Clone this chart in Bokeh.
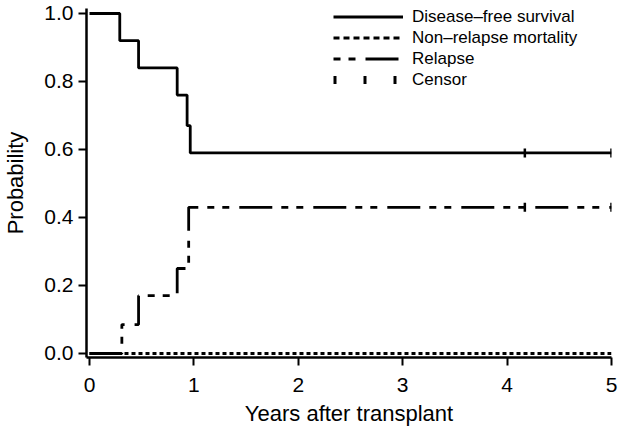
import numpy as np
from bokeh.plotting import figure
from bokeh.models import Range1d, FixedTicker, PrintfTickFormatter, Legend, LegendItem
from bokeh.embed import file_html
from bokeh.resources import INLINE

# Disease-free survival (Kaplan-Meier steps)
dfs_time = [0.0, 0.29, 0.47, 0.84, 0.935, 0.965, 5.0]
dfs_prob = [1.0, 0.92, 0.84, 0.76, 0.67, 0.59, 0.59]

# Non-relapse mortality
nrm_time = [0.0, 5.0]
nrm_prob = [0.0, 0.0]

# Relapse (cumulative incidence)
rel_time = [0.0, 0.31, 0.47, 0.84, 0.95, 5.0]
rel_prob = [0.0, 0.085, 0.17, 0.25, 0.43, 0.43]

# Censored observations
censor_time = [4.17, 5.0]
dfs_censor_prob = [0.59, 0.59]
rel_censor_prob = [0.43, 0.43]

x_ticks = [0, 1, 2, 3, 4, 5]
y_ticks = [0.0, 0.2, 0.4, 0.6, 0.8, 1.0]

FONT = "Liberation Sans"
REL_DASH = "33 9 7 8 7 10"

p = figure(width=624, height=437, output_backend="svg", toolbar_location=None,
           x_range=Range1d(-0.0287, 5.0), y_range=Range1d(-0.0118, 1.0147),
           min_border_left=85, min_border_right=13, min_border_top=8, min_border_bottom=80)
p.outline_line_color = None
p.grid.visible = False

for ax in (p.xaxis[0], p.yaxis[0]):
    ax.axis_line_width = 2.5
    ax.axis_line_color = "black"
    ax.major_tick_line_width = 2
    ax.major_tick_line_color = "black"
    ax.major_tick_out = 8
    ax.major_tick_in = 0
    ax.minor_tick_line_color = None
    ax.major_label_text_font = FONT
    ax.major_label_text_font_size = "21px"
    ax.major_label_text_color = "black"
    ax.axis_label_text_font = FONT
    ax.axis_label_text_font_size = "22px"
    ax.axis_label_text_font_style = "normal"
    ax.axis_label_text_color = "black"

p.xaxis.ticker = FixedTicker(ticks=x_ticks)
p.yaxis.ticker = FixedTicker(ticks=y_ticks)
p.yaxis.formatter = PrintfTickFormatter(format="%.1f")
p.xaxis.axis_label = "Years after transplant"
p.yaxis.axis_label = "Probability"
p.xaxis.major_label_standoff = 12
p.xaxis.axis_label_standoff = 6
p.yaxis.major_label_standoff = 5
p.yaxis.axis_label_standoff = 13

nrm = p.line(nrm_time, nrm_prob, line_color="black", line_width=3, line_dash="4 3")
dfs = p.step(dfs_time, dfs_prob, mode="after", line_color="black", line_width=2.8)
rel = p.step(rel_time, rel_prob, mode="after", line_color="black", line_width=2.8,
             line_dash=REL_DASH)
p.scatter(censor_time, dfs_censor_prob, marker="dash", angle=np.pi / 2, size=9,
          line_width=2.5, line_color="black")
p.scatter(censor_time, rel_censor_prob, marker="dash", angle=np.pi / 2, size=9,
          line_width=2.5, line_color="black")

# legend proxies (not drawn in the plot area)
nan2 = [np.nan, np.nan]
lg_dfs = p.line(nan2, nan2, line_color="black", line_width=2.8)
lg_nrm = p.line(nan2, nan2, line_color="black", line_width=3, line_dash="6 4")
lg_rel = p.line(nan2, nan2, line_color="black", line_width=2.8, line_dash=REL_DASH,
                line_dash_offset=42)
lg_cen = p.line(nan2, nan2, line_color="black", line_width=8, line_dash="3 27")

legend = Legend(items=[
    LegendItem(label="Disease\u2013free survival", renderers=[lg_dfs]),
    LegendItem(label="Non\u2013relapse mortality", renderers=[lg_nrm]),
    LegendItem(label="Relapse", renderers=[lg_rel]),
    LegendItem(label="Censor", renderers=[lg_cen]),
], location=(247, 267), orientation="vertical")
legend.glyph_width = 70
legend.glyph_height = 21
legend.label_height = 21
legend.label_standoff = 9
legend.spacing = 0
legend.padding = 0
legend.margin = 0
legend.border_line_color = None
legend.background_fill_alpha = 0
legend.label_text_font = FONT
legend.label_text_font_size = "17px"
legend.label_text_color = "black"
p.add_layout(legend, "center")

open("out.html", "w").write(file_html(p, INLINE))
